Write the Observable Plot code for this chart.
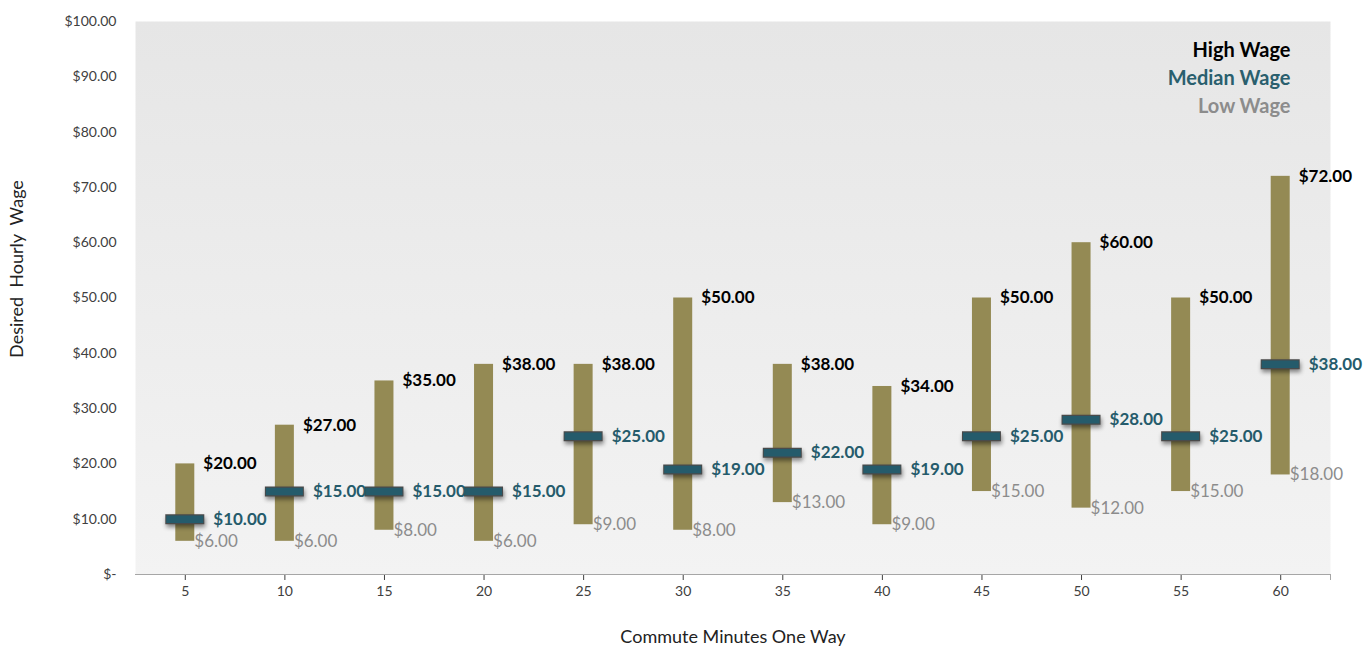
<!DOCTYPE html>
<html>
<head>
<meta charset="utf-8">
<script src="https://cdn.jsdelivr.net/npm/d3@7"></script>
<script src="https://cdn.jsdelivr.net/npm/@observablehq/plot@0.6"></script>
<style>
  html, body { margin: 0; padding: 0; background: #ffffff; }
  #chart svg { display: block; }
  .shadow line { filter: drop-shadow(1px 3px 2px rgba(0,0,0,0.45)); }
</style>
</head>
<body>
<div id="chart"></div>
<script>
const minutes = [5, 10, 15, 20, 25, 30, 35, 40, 45, 50, 55, 60];
const lowWage = [6, 6, 8, 6, 9, 8, 13, 9, 15, 12, 15, 18];
const medianWage = [10, 15, 15, 15, 25, 19, 22, 19, 25, 28, 25, 38];
const highWage = [20, 27, 35, 38, 38, 50, 38, 34, 50, 60, 50, 72];
const yTicks = [0, 10, 20, 30, 40, 50, 60, 70, 80, 90, 100];
const legendLabels = ["High Wage", "Median Wage", "Low Wage"];
const xTitle = "Commute Minutes One Way";
const yTitle = "Desired  Hourly  Wage";

const rows = minutes.map((m, i) => ({minutes: m, low: lowWage[i], median: medianWage[i], high: highWage[i]}));
const money = v => "$" + v.toFixed(2);

const olive = "#948a54";
const teal = "#255b6b";
const gray = "#8c8c8c";

const W = 1372, H = 648;
const mL = 135, mR = 42, mT = 21, mB = 74;
const band = (W - mL - mR) / minutes.length;

const svg = Plot.plot({
  width: W,
  height: H,
  marginLeft: mL,
  marginRight: mR,
  marginTop: mT,
  marginBottom: mB,
  style: {fontFamily: "Lato, 'Open Sans', sans-serif", fontSize: "14px", color: "#404040", background: "transparent"},
  x: {type: "band", domain: minutes, padding: 0, round: false, tickSize: 6, tickPadding: 6, label: null},
  y: {domain: [0, 100], ticks: yTicks, tickFormat: d => d === 0 ? "$-" : money(d), tickSize: 0, tickPadding: 19, label: null},
  marks: [
    Plot.frame({fill: "url(#plotbg)", stroke: null}),
    Plot.ruleY([0], {stroke: "#a6a6a6", strokeWidth: 1.2}),
    Plot.ruleX([minutes[minutes.length - 1]], {y1: 0, y2: 0, dx: band / 2, insetBottom: -6, stroke: "#a6a6a6"}),
    Plot.barY(rows, {x: "minutes", y1: "low", y2: "high", fill: olive, insetLeft: (band - 19) / 2, insetRight: (band - 19) / 2}),
    Plot.tickY(rows, {x: "minutes", y: "median", stroke: "#4a4a4a", strokeWidth: 10, insetLeft: (band - 39) / 2, insetRight: (band - 39) / 2, className: "shadow"}),
    Plot.tickY(rows, {x: "minutes", y: "median", stroke: teal, strokeWidth: 7.5, insetLeft: (band - 37) / 2, insetRight: (band - 37) / 2}),
    Plot.text(rows, {x: "minutes", y: "high", text: d => money(d.high), dx: 18, textAnchor: "start", fill: "#000", fontWeight: "bold", fontSize: 17}),
    Plot.text(rows, {x: "minutes", y: "median", text: d => money(d.median), dx: 28, textAnchor: "start", fill: teal, fontWeight: "bold", fontSize: 17}),
    Plot.text(rows, {x: "minutes", y: "low", text: d => money(d.low), dx: 9, textAnchor: "start", fill: gray, fontSize: 17}),
    Plot.text([legendLabels[0]], {text: d => d, frameAnchor: "top-right", textAnchor: "end", lineAnchor: "middle", dx: -40, dy: 29, fill: "#000", fontWeight: "bold", fontSize: 20}),
    Plot.text([legendLabels[1]], {text: d => d, frameAnchor: "top-right", textAnchor: "end", lineAnchor: "middle", dx: -40, dy: 57, fill: "#2a5f6e", fontWeight: "bold", fontSize: 20}),
    Plot.text([legendLabels[2]], {text: d => d, frameAnchor: "top-right", textAnchor: "end", lineAnchor: "middle", dx: -40, dy: 85, fill: gray, fontWeight: "bold", fontSize: 20}),
    Plot.text([xTitle], {text: d => d, frameAnchor: "bottom", lineAnchor: "middle", dy: 63, fill: "#222", fontSize: 18}),
    Plot.text([yTitle], {text: d => d, frameAnchor: "left", textAnchor: "middle", lineAnchor: "middle", dx: -118, dy: -29, rotate: -90, fill: "#222", fontSize: 18})
  ]
});

const defs = d3.select(svg).insert("defs", ":first-child");
const grad = defs.append("linearGradient").attr("id", "plotbg").attr("x1", 0).attr("y1", 0).attr("x2", 0).attr("y2", 1);
grad.append("stop").attr("offset", "0%").attr("stop-color", "#e6e6e6");
grad.append("stop").attr("offset", "100%").attr("stop-color", "#f3f3f3");

document.getElementById("chart").appendChild(svg);
</script>
</body>
</html>
